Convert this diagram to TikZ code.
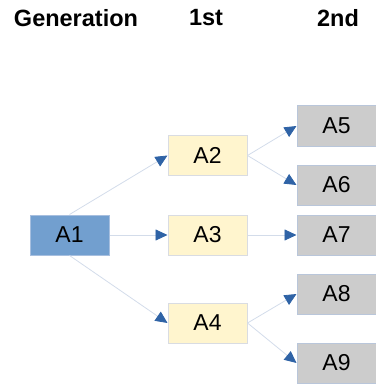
\documentclass[tikz,border=0pt]{standalone}
\usepackage{fontspec}
\setmainfont{Liberation Sans}
\usetikzlibrary{arrows.meta}
\definecolor{aone}{HTML}{729FCF}
\definecolor{aoneborder}{HTML}{A7BFDF}
\definecolor{yel}{HTML}{FFF5CE}
\definecolor{yelborder}{HTML}{D9DCE2}
\definecolor{gry}{HTML}{CCCCCC}
\definecolor{gryborder}{HTML}{B9C6DA}
\definecolor{linkc}{HTML}{D3DCEA}
\definecolor{tipc}{HTML}{2F63A6}
\tikzset{
  box/.style={minimum width=79pt,minimum height=40pt,inner sep=0pt,line width=1pt,font=\fontsize{23}{23}\selectfont},
  bluebox/.style={box,fill=aone,draw=aoneborder},
  yelbox/.style={box,fill=yel,draw=yelborder},
  grybox/.style={box,fill=gry,draw=gryborder},
  hdr/.style={font=\bfseries\fontsize{23.5}{23.5}\selectfont,inner sep=0pt},
  link/.style={draw=linkc,line width=0.8pt,-{Triangle[length=12pt,width=11pt,color=tipc]}}
}
\begin{document}
\begin{tikzpicture}[x=1pt,y=-1pt]
\useasboundingbox (0,0) rectangle (375,385);
\node[hdr] (h0) at (76,18) {Generation};
\node[hdr] (h1) at (206,18) {1st};
\node[hdr] (h2) at (338,18) {2nd};
\node[bluebox] (a1) at (69.5,235) {A1};
\node[yelbox] (a2) at (207.5,155.5) {A2};
\node[yelbox] (a3) at (207.5,235) {A3};
\node[yelbox] (a4) at (207.5,323) {A4};
\node[grybox] (a5) at (336.5,126) {A5};
\node[grybox] (a6) at (336.5,185) {A6};
\node[grybox] (a7) at (336.5,235) {A7};
\node[grybox] (a8) at (336.5,294) {A8};
\node[grybox] (a9) at (336.5,363) {A9};
\draw[link] (a1.north) -- (a2.west);
\draw[link] (a1.east) -- (a3.west);
\draw[link] (a1.south) -- (a4.west);
\draw[link] (a2.east) -- (a5.west);
\draw[link] (a2.east) -- (a6.west);
\draw[link] (a3.east) -- (a7.west);
\draw[link] (a4.east) -- (a8.west);
\draw[link] (a4.east) -- (a9.west);
\end{tikzpicture}
\end{document}
